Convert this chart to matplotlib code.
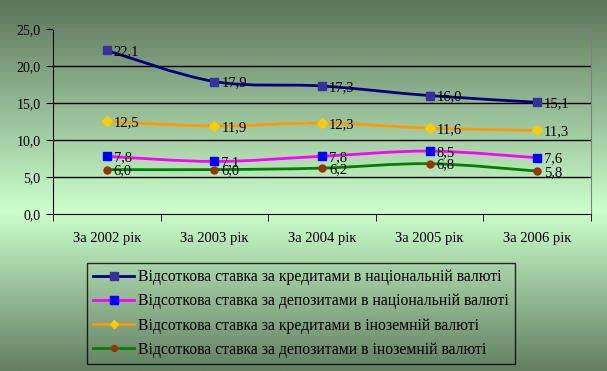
import numpy as np
import matplotlib.pyplot as plt
from matplotlib.path import Path
from matplotlib.patches import PathPatch
from matplotlib.colors import LinearSegmentedColormap

years = ['За 2002 рік', 'За 2003 рік', 'За 2004 рік', 'За 2005 рік', 'За 2006 рік']
loans_nat = [22.1, 17.9, 17.3, 16.0, 15.1]
deps_nat = [7.8, 7.1, 7.8, 8.5, 7.6]
loans_for = [12.5, 11.9, 12.3, 11.6, 11.3]
deps_for = [6.0, 6.0, 6.2, 6.8, 5.8]
names = ['Відсоткова ставка за кредитами в національній валюті',
         'Відсоткова ставка за депозитами в національній валюті',
         'Відсоткова ставка за кредитами в іноземній валюті',
         'Відсоткова ставка за депозитами в іноземній валюті']

plt.rcParams['font.family'] = ['Liberation Serif', 'DejaVu Serif']
plt.rcParams['font.size'] = 10

fig = plt.figure(figsize=(6.07, 3.71), dpi=100)

# gradient background
bg = fig.add_axes([0, 0, 1, 1], zorder=-10)
cmap = LinearSegmentedColormap.from_list(
    'bg', [(0, '#5b755b'), (0.57, '#ccffcc'), (1, '#627f62')])
bg.imshow(np.linspace(0, 1, 256).reshape(-1, 1), aspect='auto', cmap=cmap,
          extent=[0, 1, 0, 1], origin='upper')
bg.axis('off')

W, H = 607, 371
ax = fig.add_axes([53 / W, 1 - 214 / H, (591 - 53) / W, (214 - 29) / H])
ax.patch.set_alpha(0)

x = np.arange(len(years))


def smooth_path(xs, ys):
    # Catmull-Rom style bezier through the points, like Excel smoothing
    xs = np.asarray(xs, float)
    ys = np.asarray(ys, float)
    verts = [(xs[0], ys[0])]
    codes = [Path.MOVETO]
    n = len(xs)
    for i in range(n - 1):
        p0 = (xs[max(i - 1, 0)], ys[max(i - 1, 0)])
        p1 = (xs[i], ys[i])
        p2 = (xs[i + 1], ys[i + 1])
        p3 = (xs[min(i + 2, n - 1)], ys[min(i + 2, n - 1)])
        c1 = (p1[0] + (p2[0] - p0[0]) / 6, p1[1] + (p2[1] - p0[1]) / 6)
        c2 = (p2[0] - (p3[0] - p1[0]) / 6, p2[1] - (p3[1] - p1[1]) / 6)
        verts += [c1, c2, p2]
        codes += [Path.CURVE4] * 3
    return Path(verts, codes)


series = [
    (loans_nat, '#000080', '#333399', 's', 6),
    (deps_nat, '#ff00ff', '#0000ff', 's', 6),
    (loans_for, '#ff9900', '#ffcc00', 'D', 5),
    (deps_for, '#008000', '#993300', 'o', 5),
]

handles = []
for (vals, lc, mc, mk, ms), name in zip(series, names):
    ax.add_patch(PathPatch(smooth_path(x, vals), facecolor='none',
                           edgecolor=lc, lw=2, zorder=3))
    ax.plot(x, vals, ls='none', marker=mk, ms=ms, mfc=mc, mec=mc, zorder=4)
    h, = ax.plot([], [], color=lc, lw=2, marker=mk, ms=ms * 0.85, mfc=mc, mec=mc)
    handles.append(h)
    for xi, v in zip(x, vals):
        ax.annotate(f'{v:.1f}'.replace('.', ','), (xi, v), xytext=(5, -1),
                    textcoords='offset points', ha='left', va='center',
                    fontsize=10.5, zorder=5)

ax.set_xlim(-0.5, len(years) - 0.5)
ax.set_ylim(0, 25)
ax.set_yticks(np.arange(0, 26, 5))
ax.set_yticklabels([f'{t:.1f}'.replace('.', ',') for t in np.arange(0, 26, 5)])
ax.set_xticks(x)
ax.set_xticklabels(years)
ax.set_xticks(np.arange(-0.5, len(years), 1), minor=True)
ax.tick_params(axis='x', which='major', length=0, pad=13, labelsize=10.5)
ax.tick_params(axis='x', which='minor', length=5, direction='out', color='black')
ax.tick_params(axis='y', length=5, direction='out', labelsize=10, pad=4)
for t in (5, 10, 15, 20):
    ax.axhline(t, color='black', lw=1, zorder=1)
ax.spines['left'].set_color('black')
ax.spines['bottom'].set_color('black')
ax.spines['top'].set_color('#808080')
ax.spines['right'].set_color('#808080')

leg = fig.legend(handles, names, loc='upper left',
                 bbox_to_anchor=(87 / W, 1 - 263 / H), borderaxespad=0,
                 frameon=True, fontsize=11.3, handlelength=2.6,
                 labelspacing=0.52, borderpad=0.4, handletextpad=0.25,
                 fancybox=False)
leg.get_frame().set_edgecolor('black')
leg.get_frame().set_facecolor('none')
leg.get_frame().set_linewidth(1)

fig.savefig('out.png', dpi=100)
